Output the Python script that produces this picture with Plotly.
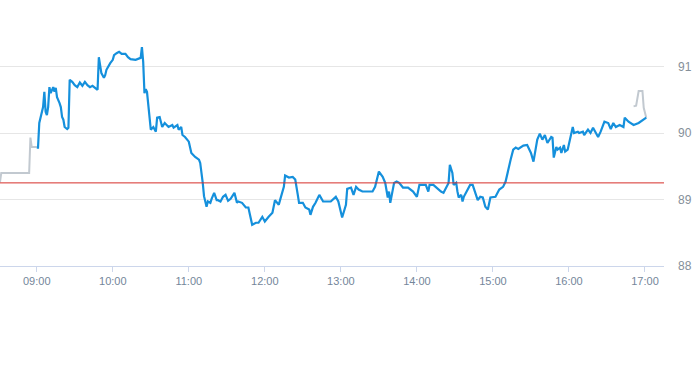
import plotly.graph_objects as go

DAY = "2024-01-02 "

pre_times = ["08:31", "08:32", "08:54", "08:55", "08:56", "09:00"]
pre_vals = [89.26, 89.40, 89.40, 89.93, 89.79, 89.79]

post_times = ["16:51", "16:53", "16:55", "16:58", "16:59", "17:01"]
post_vals = [90.40, 90.41, 90.63, 90.63, 90.38, 90.23]

session_times = [
    "09:00", "09:01", "09:02", "09:03", "09:04", "09:05", "09:06", "09:07", "09:08", "09:09",
    "09:10", "09:11", "09:13", "09:14", "09:15", "09:16", "09:18", "09:19", "09:20", "09:21",
    "09:22", "09:24", "09:25", "09:26", "09:28", "09:30", "09:32", "09:34", "09:36", "09:38",
    "09:40", "09:42", "09:44", "09:47", "09:48", "09:49", "09:50", "09:51", "09:53", "09:54",
    "09:55", "09:57", "09:58", "10:00", "10:01", "10:03", "10:05", "10:07", "10:10", "10:12",
    "10:14", "10:18", "10:22", "10:23", "10:24", "10:25", "10:26", "10:27", "10:29", "10:30",
    "10:32", "10:34", "10:35", "10:37", "10:39", "10:41", "10:44", "10:47", "10:48", "10:51",
    "10:52", "10:54", "10:55", "10:57", "11:00", "11:02", "11:05", "11:08", "11:09", "11:10",
    "11:11", "11:12", "11:13", "11:14", "11:15", "11:17", "11:18", "11:20", "11:22", "11:23",
    "11:25", "11:27", "11:29", "11:31", "11:33", "11:36", "11:38", "11:39", "11:42", "11:45",
    "11:47", "11:50", "11:53", "11:55", "11:58", "12:00", "12:03", "12:06", "12:08", "12:11",
    "12:12", "12:15", "12:16", "12:19", "12:22", "12:24", "12:26", "12:27", "12:30", "12:32",
    "12:35", "12:36", "12:38", "12:40", "12:43", "12:46", "12:48", "12:52", "12:56", "12:58",
    "13:01", "13:04", "13:05", "13:08", "13:10", "13:12", "13:14", "13:17", "13:21", "13:25",
    "13:27", "13:30", "13:33", "13:35", "13:37", "13:38", "13:39", "13:42", "13:44", "13:46",
    "13:49", "13:53", "13:57", "14:00", "14:02", "14:07", "14:09", "14:10", "14:13", "14:17",
    "14:19", "14:21", "14:25", "14:26", "14:28", "14:29", "14:31", "14:32", "14:33", "14:35",
    "14:36", "14:37", "14:40", "14:42", "14:44", "14:46", "14:48", "14:50", "14:52", "14:54",
    "14:56", "14:58", "15:02", "15:05", "15:08", "15:10", "15:12", "15:14", "15:16", "15:18",
    "15:20", "15:24", "15:27", "15:28", "15:30", "15:32", "15:35", "15:37", "15:39", "15:41",
    "15:43", "15:46", "15:47", "15:48", "15:50", "15:51", "15:53", "15:54", "15:56", "15:57",
    "15:59", "16:03", "16:04", "16:07", "16:08", "16:11", "16:12", "16:15", "16:17", "16:19",
    "16:21", "16:23", "16:25", "16:28", "16:31", "16:33", "16:35", "16:37", "16:40", "16:43",
    "16:44", "16:47", "16:51", "16:55", "17:01",
]
session_vals = [
    89.78, 89.78, 90.15, 90.23, 90.32, 90.39, 90.62, 90.32, 90.27, 90.39,
    90.69, 90.60, 90.69, 90.62, 90.68, 90.54, 90.45, 90.39, 90.24, 90.20,
    90.09, 90.06, 90.08, 90.80, 90.77, 90.72, 90.69, 90.76, 90.71, 90.77,
    90.72, 90.69, 90.71, 90.66, 90.65, 91.14, 91.02, 90.90, 90.83, 90.87,
    90.95, 91.02, 91.05, 91.10, 91.17, 91.20, 91.22, 91.19, 91.19, 91.14,
    91.11, 91.10, 91.13, 91.29, 91.07, 90.60, 90.66, 90.62, 90.23, 90.05,
    90.09, 90.02, 90.23, 90.24, 90.09, 90.15, 90.09, 90.12, 90.08, 90.12,
    90.05, 90.09, 89.97, 89.94, 89.87, 89.70, 89.64, 89.60, 89.55, 89.42,
    89.25, 89.05, 88.95, 88.89, 88.97, 88.95, 89.01, 89.10, 88.99, 88.99,
    88.97, 89.04, 89.07, 88.98, 89.01, 89.10, 88.95, 88.97, 88.95, 88.88,
    88.88, 88.62, 88.65, 88.65, 88.74, 88.67, 88.74, 88.80, 88.99, 88.92,
    88.99, 89.19, 89.36, 89.33, 89.34, 89.30, 89.07, 88.95, 88.95, 88.88,
    88.85, 88.77, 88.89, 88.95, 89.07, 88.97, 88.97, 88.97, 89.04, 88.97,
    88.73, 88.92, 89.16, 89.18, 89.07, 89.19, 89.15, 89.12, 89.12, 89.12,
    89.19, 89.42, 89.34, 89.25, 89.03, 89.12, 88.95, 89.25, 89.27, 89.25,
    89.18, 89.18, 89.12, 89.04, 89.22, 89.22, 89.12, 89.22, 89.22, 89.15,
    89.12, 89.10, 89.25, 89.52, 89.40, 89.22, 89.25, 89.12, 89.03, 89.07,
    88.97, 89.04, 89.15, 89.22, 89.22, 89.12, 88.99, 89.04, 89.03, 88.89,
    88.85, 89.03, 89.04, 89.15, 89.19, 89.27, 89.45, 89.60, 89.75, 89.78,
    89.76, 89.81, 89.82, 89.78, 89.70, 89.57, 89.90, 89.99, 89.90, 89.97,
    89.85, 89.94, 89.93, 89.63, 89.79, 89.75, 89.78, 89.70, 89.82, 89.72,
    89.75, 90.09, 90.00, 90.02, 90.00, 90.02, 89.97, 90.05, 90.00, 90.08,
    90.00, 89.94, 90.02, 90.17, 90.15, 90.06, 90.15, 90.09, 90.12, 90.09,
    90.23, 90.17, 90.12, 90.15, 90.23,
]

prev_close = 89.25
y_ticks = [88, 89, 90, 91]
x_start, x_end = "08:31", "17:15"


def ts(lst):
    return [DAY + t for t in lst]


fig = go.Figure()
fig.add_trace(go.Scatter(x=ts(pre_times), y=pre_vals, mode="lines",
                         line=dict(color="#c2c9d0", width=2), hoverinfo="skip"))
fig.add_trace(go.Scatter(x=ts(post_times), y=post_vals, mode="lines",
                         line=dict(color="#c2c9d0", width=2), hoverinfo="skip"))
fig.add_trace(go.Scatter(x=ts(session_times), y=session_vals, mode="lines",
                         line=dict(color="#1590dc", width=2.2)))
fig.add_hline(y=prev_close, line=dict(color="#d62f2a", width=1), layer="above")

fig.update_layout(
    width=693, height=365,
    margin=dict(l=0, r=29, t=0, b=99),
    paper_bgcolor="white", plot_bgcolor="white",
    showlegend=False,
    font=dict(family="Liberation Sans, Arial, sans-serif"),
    xaxis=dict(
        type="date",
        automargin=False,
        range=[DAY + x_start, DAY + x_end],
        tick0=DAY + "09:00", dtick=3600000,
        tickformat="%H:%M",
        showgrid=False,
        showline=True, linecolor="#ccd6eb", linewidth=1,
        ticks="outside", ticklen=5, tickcolor="#ccd6eb",
        tickfont=dict(size=11, color="#74869a"),
        zeroline=False,
    ),
    yaxis=dict(
        side="right",
        automargin=False,
        range=[88, 92],
        tickvals=y_ticks,
        ticktext=[str(v) for v in y_ticks],
        showgrid=True, gridcolor="#e6e6e6", gridwidth=1,
        ticks="", showline=False, zeroline=False,
        tickfont=dict(size=12, color="#858f99"),
        ticklabelstandoff=13,
    ),
)

fig.write_html(
    "out.html",
    config={"displayModeBar": False},
    post_script="document.body.style.margin='0';document.body.style.overflow='hidden';",
)
